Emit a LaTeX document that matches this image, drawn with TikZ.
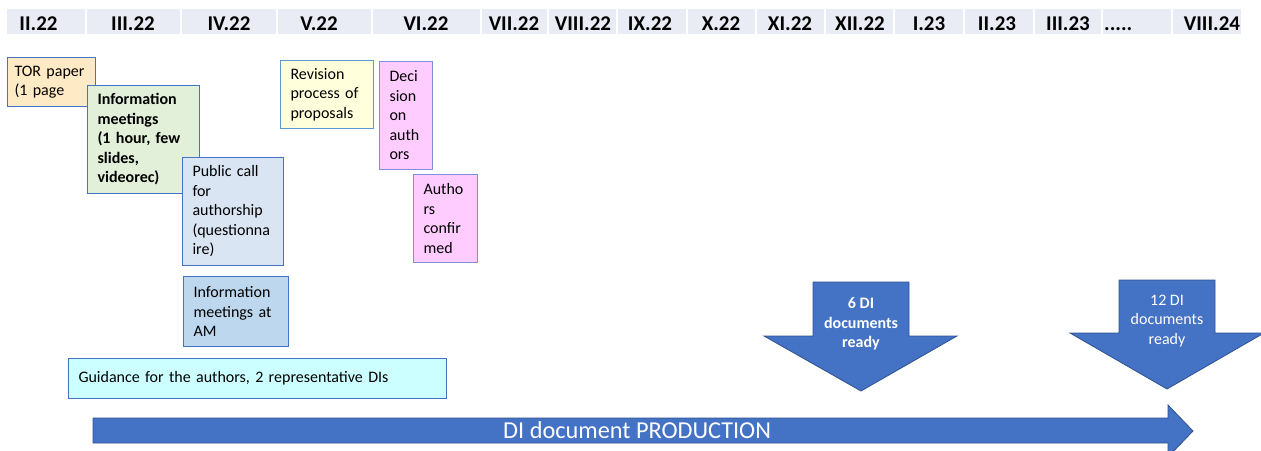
\documentclass[tikz,border=0pt]{standalone}
\usepackage{fontspec}
\setmainfont{Carlito}
\usepackage{tikz}

\definecolor{bandgrey}{HTML}{E9EBF5}
\definecolor{boxblue}{HTML}{4472C4}
\definecolor{lightedge}{HTML}{5B9BD5}
\definecolor{pinkedge}{HTML}{7F8FDA}
\definecolor{torfill}{HTML}{FFEAC6}
\definecolor{infofill}{HTML}{E2F0D9}
\definecolor{callfill}{HTML}{DAE5F3}
\definecolor{revfill}{HTML}{FFFFDB}
\definecolor{pinkfill}{HTML}{FFCCFF}
\definecolor{amfill}{HTML}{BDD7EE}
\definecolor{guidefill}{HTML}{CCFFFF}
\definecolor{arrowedge}{HTML}{2F528F}

\begin{document}
\begin{tikzpicture}[x=1pt, y=-1pt,
	every node/.style={font=\fontsize{16}{19.5}\selectfont, inner sep=0pt},
	month/.style={anchor=base, font=\fontsize{21}{24}\selectfont\bfseries},
	note/.style={draw=boxblue, line width=1pt, anchor=north west, align=left, inner xsep=10pt, inner ysep=0pt},
	bigarrow/.style={fill=boxblue, draw=arrowedge, line width=0.8pt},
	milestone/.style={align=center, text=white},]
\useasboundingbox (0,0) rectangle (1261,450);
\clip (0,0) rectangle (1261,450);

% month band
\fill[bandgrey] (7,9) rectangle (1241,34);
\draw[white, line width=2pt] (86,9) -- (86,34) (181,9) -- (181,34) (277,9) -- (277,34) (372,9) -- (372,34)
	(481,9) -- (481,34) (548,9) -- (548,34) (617,9) -- (617,34) (687,9) -- (687,34) (756,9) -- (756,34)
	(825,9) -- (825,34) (894,9) -- (894,34) (964,9) -- (964,34) (1034,9) -- (1034,34) (1102,9) -- (1102,34)
	(1172,9) -- (1172,34);
\node[month] (feb22) at (38.5,30) {II.22};
\node[month] (mar22) at (133,30) {III.22};
\node[month] (apr22) at (229,30) {IV.22};
\node[month] (may22) at (319,30) {V.22};
\node[month] (jun22) at (426,30) {VI.22};
\node[month] (jul22) at (514,30) {VII.22};
\node[month] (aug22) at (583,30) {VIII.22};
\node[month] (sep22) at (650,30) {IX.22};
\node[month] (oct22) at (721,30) {X.22};
\node[month] (nov22) at (790,30) {XI.22};
\node[month] (dec22) at (860,30) {XII.22};
\node[month] (jan23) at (929,30) {I.23};
\node[month] (feb23) at (997,30) {II.23};
\node[month] (mar23) at (1068,30) {III.23};
\node[month, anchor=base west] (dots) at (1104,30) {.....};
\node[month] (aug24) at (1212,30) {VIII.24};

% tasks
\node[note, fill=torfill, inner xsep=7pt, text width=74, minimum height=49] (tor) at (7,57) {TOR paper\\(1 page};
\node[note, fill=infofill, text width=92, minimum height=108, font=\fontsize{16}{19.5}\selectfont\bfseries] (info) at (87,85)
	{Information\\meetings\\(1 hour, few\\slides,\\videorec)};
\node[note, fill=callfill, text width=81, minimum height=108] (call) at (182,157)
	{Public call\\for\\authorship\\(questionna\\ire)};
\node[note, fill=amfill, text width=85, minimum height=70] (am) at (183,276) {Information\\meetings at\\AM};
\node[note, draw=lightedge, fill=revfill, text width=73, minimum height=68] (revision) at (280,60)
	{Revision\\process of\\proposals};
\node[note, draw=pinkedge, fill=pinkfill, text width=33, minimum height=108] (decision) at (379,61)
	{Deci\\sion\\on\\auth\\ors};
\node[note, draw=pinkedge, fill=pinkfill, text width=44, minimum height=88] (confirmed) at (413,174)
	{Autho\\rs\\confir\\med};
\node[note, fill=guidefill, text width=358, minimum height=40] (guidance) at (68,358)
	{Guidance for the authors, 2 representative DIs};

% milestones
\path[bigarrow] (813,282) -- (909,282) -- (909,336) -- (957,336) -- (861,391) -- (764,336) -- (813,336) -- cycle;
\node[milestone, font=\fontsize{16}{19.5}\selectfont\bfseries] (six) at (861,324) {6 DI\\documents\\ready};
\path[bigarrow] (1119,280) -- (1215,280) -- (1215,333) -- (1264,333) -- (1167,389) -- (1070,333) -- (1119,333) -- cycle;
\node[milestone] (twelve) at (1167,321) {12 DI\\documents\\ready};

% production
\path[bigarrow] (93,418) -- (1168,418) -- (1168,405) -- (1193,431) -- (1168,457) -- (1168,443) -- (93,443) -- cycle;
\node[anchor=base west, text=white, font=\fontsize{24.3}{27}\selectfont] (production) at (503,438.5) {DI document PRODUCTION};
\end{tikzpicture}
\end{document}
